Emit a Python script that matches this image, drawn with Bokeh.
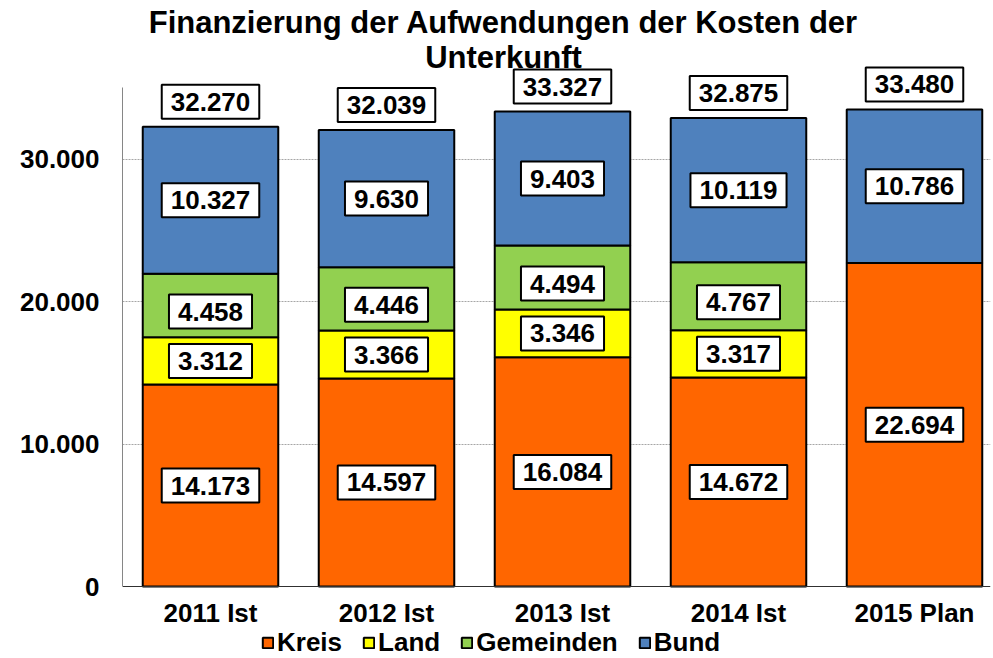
from bokeh.plotting import figure
from bokeh.models import (ColumnDataSource, Range1d, FixedTicker, Legend, LegendItem, Label)
from bokeh.embed import file_html
from bokeh.resources import INLINE

# ---- data ----
categories = ["2011 Ist", "2012 Ist", "2013 Ist", "2014 Ist", "2015 Plan"]
kreis = [14173, 14597, 16084, 14672, 22694]
land = [3312, 3366, 3346, 3317, 0]
gemeinden = [4458, 4446, 4494, 4767, 0]
bund = [10327, 9630, 9403, 10119, 10786]
series_names = ["Kreis", "Land", "Gemeinden", "Bund"]
series_colors = ["#FF6600", "#FFFF00", "#92D050", "#4F81BD"]
y_ticks = [0, 10000, 20000, 30000]
y_tick_labels = ["0", "10.000", "20.000", "30.000"]
title_lines = ["Finanzierung der Aufwendungen der Kosten der", "Unterkunft"]

FONT = "Liberation Sans"
FRAME_W, FRAME_H = 868, 658
BELOW_ZERO_PX = 72          # room under the zero line for category labels and legend
PX_PER_UNIT = 0.01425


def fmt(v):
    return f"{v:,}".replace(",", ".")


series = [kreis, land, gemeinden, bund]
xs = list(range(len(categories)))

p = figure(frame_width=FRAME_W, frame_height=FRAME_H, output_backend="svg", toolbar_location=None,
           title=None, x_range=Range1d(-0.5, -0.5 + FRAME_W / 176),
           y_range=Range1d(-BELOW_ZERO_PX / PX_PER_UNIT, (FRAME_H - BELOW_ZERO_PX) / PX_PER_UNIT),
           min_border_left=122, min_border_right=3, min_border_top=0, min_border_bottom=0)
p.outline_line_color = None
p.background_fill_color = "white"
p.border_fill_color = "white"

# grid
p.xgrid.visible = False
p.ygrid.ticker = FixedTicker(ticks=y_ticks[1:])
p.ygrid.grid_line_color = "#a6a6a6"
p.ygrid.grid_line_dash = "2 1"
p.ygrid.grid_line_width = 1

# axes
p.yaxis.ticker = FixedTicker(ticks=y_ticks)
p.yaxis.major_label_overrides = {t: l for t, l in zip(y_ticks, y_tick_labels)}
p.yaxis.bounds = (0, 35000)
p.yaxis.axis_line_color = "#868686"
p.yaxis.major_tick_line_color = None
p.yaxis.minor_tick_line_color = None
p.yaxis.major_tick_out = 0
p.yaxis.major_tick_in = 0
p.yaxis.major_label_standoff = 23
p.yaxis.major_label_text_font = FONT
p.yaxis.major_label_text_font_style = "bold"
p.yaxis.major_label_text_font_size = "26px"
p.yaxis.major_label_text_color = "black"

p.xaxis.fixed_location = 0
p.xaxis.ticker = FixedTicker(ticks=xs)
p.xaxis.major_label_overrides = {x: c for x, c in zip(xs, categories)}
p.xaxis.axis_line_color = "#303030"
p.xaxis.major_tick_line_color = None
p.xaxis.minor_tick_line_color = None
p.xaxis.major_tick_out = 0
p.xaxis.major_tick_in = 0
p.xaxis.major_label_standoff = 11
p.xaxis.major_label_text_font = FONT
p.xaxis.major_label_text_font_style = "bold"
p.xaxis.major_label_text_font_size = "26px"
p.xaxis.major_label_text_color = "black"

# stacked bars
bottoms = [0] * len(xs)
renderers = []
label_x, label_y, label_t, label_off = [], [], [], []
for name, vals, col in zip(series_names, series, series_colors):
    bx, bb, bt = [], [], []
    for i, v in enumerate(vals):
        if v > 0:
            bx.append(xs[i])
            bb.append(bottoms[i])
            bt.append(bottoms[i] + v)
            label_x.append(xs[i])
            label_y.append(bottoms[i] + v / 2)
            label_t.append(fmt(v))
            label_off.append(6 if name == "Gemeinden" else 0)
    src = ColumnDataSource(dict(x=bx, bottom=bb, top=bt))
    r = p.vbar(x="x", bottom="bottom", top="top", width=0.77, source=src,
               fill_color=col, line_color="black", line_width=2)
    renderers.append(r)
    bottoms = [b + v for b, v in zip(bottoms, vals)]

# totals
for i, tot in enumerate(bottoms):
    label_x.append(xs[i])
    label_y.append(tot)
    label_t.append(fmt(tot))
    label_off.append(-25)

lsrc = ColumnDataSource(dict(x=label_x, y=label_y, t=label_t, off=label_off))
p.text(x="x", y="y", text="t", source=lsrc, y_offset="off",
       text_align="center", text_baseline="middle",
       text_font_size="26px", text_font_style="bold", text_color="black",
       text_font={"value": FONT},
       background_fill_color="white", border_line_color="black", border_line_width=2,
       padding=dict(left=9, right=9, top=8, bottom=8))

# legend at the bottom of the frame
legend = Legend(items=[LegendItem(label=n, renderers=[r]) for n, r in zip(series_names, renderers)],
                orientation="horizontal", location=(139, 0),
                glyph_width=13, glyph_height=13, label_standoff=3, spacing=20,
                label_text_font=FONT, label_text_font_style="bold", label_text_font_size="26px",
                label_text_color="black",
                label_height=26, padding=0, margin=0,
                border_line_color=None, background_fill_alpha=0)
p.add_layout(legend)

# title
for line, yy in zip(title_lines, [FRAME_H - 22, FRAME_H - 57]):
    p.add_layout(Label(x=381, y=yy, x_units="screen", y_units="screen", text=line,
                       text_align="center", text_baseline="alphabetic",
                       text_font=FONT, text_font_style="bold", text_font_size="31px",
                       text_color="black"))

open("out.html", "w").write(file_html(p, INLINE))
